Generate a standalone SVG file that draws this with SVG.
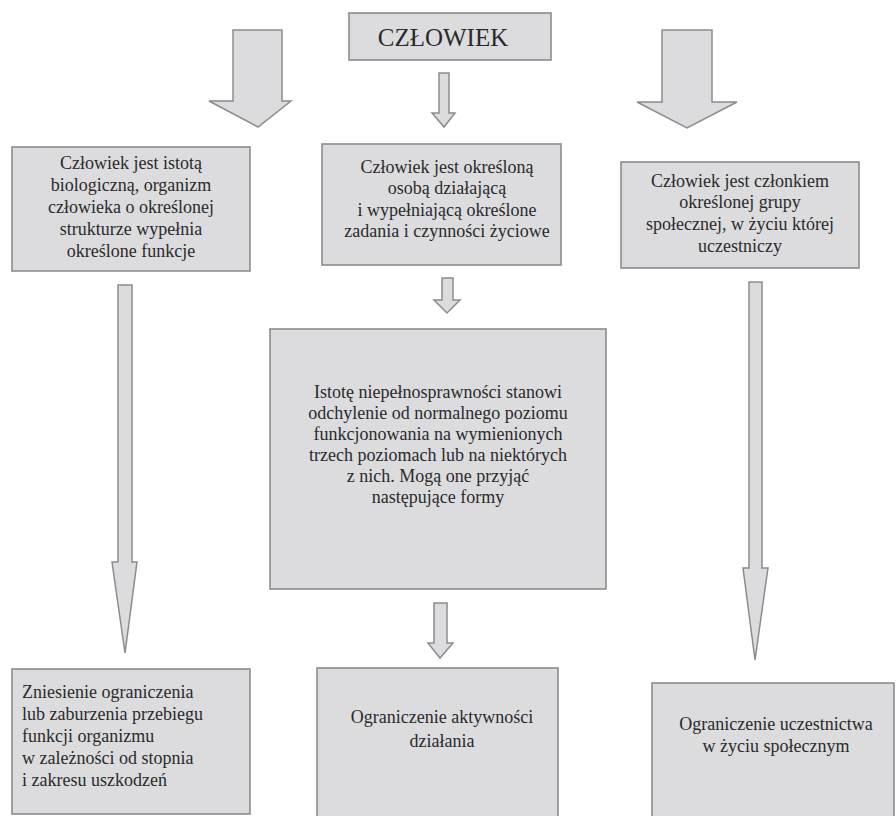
<svg xmlns="http://www.w3.org/2000/svg" width="896" height="816" viewBox="0 0 896 816">
<style>
.box{fill:#dcdcdf;stroke:#8c8c8c;stroke-width:1.6}
.arr{fill:#dcdcdf;stroke:#8c8c8c;stroke-width:1.5;stroke-linejoin:miter}
.c{text-anchor:middle}
</style>
<rect width="896" height="816" fill="#ffffff"/>
<g id="connectors">
<polygon class="arr" points="233,30 282,30 282,101 291,101 258,127 209,101 233,101"/>
<polygon class="arr" points="662,30 712,30 712,102 737,102 687,128 637,102 662,102"/>
<polygon class="arr" points="439,73 449,73 449,113 455,113 444,127 432,113 439,113"/>
<polygon class="arr" points="442,278 453,278 453,300 460,300 447,313 434,300 442,300"/>
<polygon class="arr" points="118,285 132,285 132,562 137,562 125,653 112,562 118,562"/>
<polygon class="arr" points="749,282 762,282 762,568 768,568 755,660 743,568 749,568"/>
<polygon class="arr" points="434,603 447,603 447,643 453,643 440,658 428,643 434,643"/>
</g>
<g font-family="Liberation Serif, Times New Roman, DejaVu Serif, serif" font-size="18" fill="#2a2a2a">
<g id="n-czlowiek">
<rect class="box" x="349" y="13" width="202" height="47"/>
<text class="c" x="443" y="46" font-size="25">CZŁOWIEK</text>
</g>
<g id="n-bio">
<rect class="box" x="12" y="147" width="238" height="124"/>
<text class="c" x="131" y="169">Człowiek jest istotą</text>
<text class="c" x="131" y="191">biologiczną, organizm</text>
<text class="c" x="131" y="213">człowieka o określonej</text>
<text class="c" x="131" y="235">strukturze wypełnia</text>
<text class="c" x="131" y="257">określone funkcje</text>
</g>
<g id="n-osoba">
<rect class="box" x="322" y="144" width="239" height="121"/>
<text class="c" x="447" y="173">Człowiek jest określoną</text>
<text class="c" x="447" y="194">osobą działającą</text>
<text class="c" x="447" y="216">i wypełniającą określone</text>
<text class="c" x="447" y="237">zadania i czynności życiowe</text>
</g>
<g id="n-grupa">
<rect class="box" x="621" y="162" width="238" height="106"/>
<text class="c" x="740" y="187">Człowiek jest członkiem</text>
<text class="c" x="740" y="208">określonej grupy</text>
<text class="c" x="740" y="230">społecznej, w życiu której</text>
<text class="c" x="740" y="252">uczestniczy</text>
</g>
<g id="n-istota">
<rect class="box" x="270" y="329" width="336" height="260"/>
<text class="c" x="438" y="398">Istotę niepełnosprawności stanowi</text>
<text class="c" x="438" y="419">odchylenie od normalnego poziomu</text>
<text class="c" x="438" y="440">funkcjonowania na wymienionych</text>
<text class="c" x="438" y="461">trzech poziomach lub na niektórych</text>
<text class="c" x="438" y="482">z nich. Mogą one przyjąć</text>
<text class="c" x="438" y="503">następujące formy</text>
</g>
<g id="n-zniesienie">
<rect class="box" x="12" y="669" width="238" height="145"/>
<text x="22" y="698">Zniesienie ograniczenia</text>
<text x="22" y="720">lub zaburzenia przebiegu</text>
<text x="22" y="742">funkcji organizmu</text>
<text x="22" y="764">w zależności od stopnia</text>
<text x="22" y="786">i zakresu uszkodzeń</text>
</g>
<g id="n-aktywnosc">
<rect class="box" x="317" y="668" width="241" height="160"/>
<text class="c" x="442" y="723">Ograniczenie aktywności</text>
<text class="c" x="442" y="747">działania</text>
</g>
<g id="n-uczestnictwo">
<rect class="box" x="652" y="683" width="242" height="145"/>
<text class="c" x="776" y="730">Ograniczenie uczestnictwa</text>
<text class="c" x="776" y="752">w życiu społecznym</text>
</g>
</g>
</svg>
